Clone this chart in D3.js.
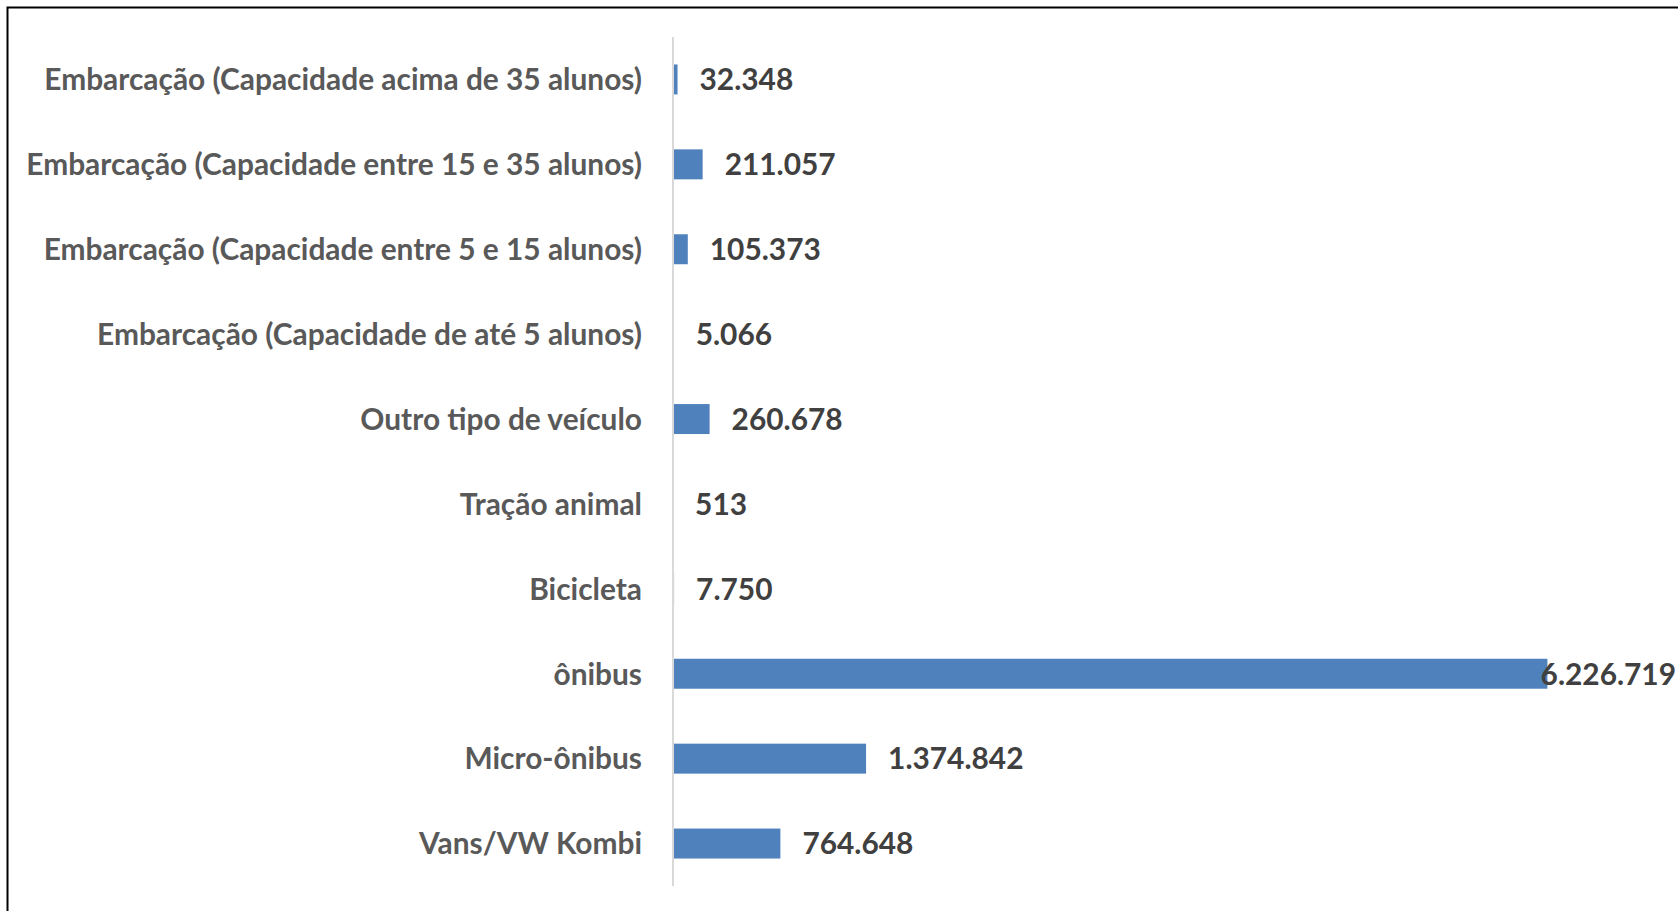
<!DOCTYPE html>
<html>
<head>
<meta charset="utf-8">
<script src="https://cdn.jsdelivr.net/npm/d3@7"></script>
<style>
  html, body { margin: 0; padding: 0; background: #fff; }
  svg { display: block; }
  .cat-label { font-family: Lato, "Open Sans", sans-serif; font-weight: 700; fill: #595959; }
  .val-label { font-family: Lato, "Open Sans", sans-serif; font-weight: 700; fill: #404040; }
</style>
</head>
<body>
<svg id="chart" width="1678" height="911"></svg>
<script>
// ----------

// top to bottom, as in the picture
const CATEGORIES = [
  "Embarcação (Capacidade acima de 35 alunos)",
  "Embarcação (Capacidade entre 15 e 35 alunos)",
  "Embarcação (Capacidade entre 5 e 15 alunos)",
  "Embarcação (Capacidade de até 5 alunos)",
  "Outro tipo de veículo",
  "Tração animal",
  "Bicicleta",
  "ônibus",
  "Micro-ônibus",
  "Vans/VW Kombi"
];
const VALUES = [32348, 211057, 105373, 5066, 260678, 513, 7750, 6226719, 1374842, 764648];

const BAR_COLOR = "#4F81BD";
const AXIS_COLOR = "#D9D9D9";
const FONT_SIZE = 28;
const LONGEST_LABEL_WIDTH = 616;

// ----------

const width = 1678;
const height = 911;
const axisX = 673;
const plotTop = 37;
const plotBottom = 886;

const svg = d3.select("#chart");

// outer frame (right and bottom edges run off the picture)
svg.append("rect")
  .attr("x", 7.5)
  .attr("y", 7.5)
  .attr("width", width + 20)
  .attr("height", height + 20)
  .attr("fill", "none")
  .attr("stroke", "#000")
  .attr("stroke-width", 2);

const data = CATEGORIES.map((c, i) => ({ name: c, value: VALUES[i] }));

const y = d3.scaleBand()
  .domain(CATEGORIES)
  .range([plotTop, plotBottom])
  .paddingInner(0.647)
  .paddingOuter(0.3235);

const x = d3.scaleLinear()
  .domain([0, 7000000])
  .range([axisX, axisX + 983]);

// bars
svg.append("g")
  .selectAll("rect")
  .data(data)
  .enter()
  .append("rect")
  .attr("x", x(0))
  .attr("y", d => y(d.name))
  .attr("width", d => Math.max(0, x(d.value) - x(0)))
  .attr("height", y.bandwidth())
  .attr("fill", BAR_COLOR);

// category axis line, drawn over the bars' base
svg.append("line")
  .attr("x1", axisX)
  .attr("x2", axisX)
  .attr("y1", plotTop)
  .attr("y2", plotBottom)
  .attr("stroke", AXIS_COLOR)
  .attr("stroke-width", 2);

// category labels
const catLabels = svg.append("g")
  .selectAll("text")
  .data(data)
  .enter()
  .append("text")
  .attr("class", "cat-label")
  .attr("x", axisX - 31)
  .attr("y", d => y(d.name) + y.bandwidth() / 2)
  .attr("dy", "0.36em")
  .attr("text-anchor", "end")
  .style("font-size", FONT_SIZE + "px")
  .text(d => d.name);

// fit the font so the longest label takes the same room as in the original
let maxW = d3.max(catLabels.nodes(), n => n.getComputedTextLength());
let fitSize = FONT_SIZE * LONGEST_LABEL_WIDTH / maxW;
catLabels.style("font-size", fitSize + "px");

// value labels
const fmt = d3.formatLocale({ decimal: ",", thousands: ".", grouping: [3], currency: ["", ""] }).format(",d");

svg.append("g")
  .selectAll("text")
  .data(data)
  .enter()
  .append("text")
  .attr("class", "val-label")
  .attr("y", d => y(d.name) + y.bandwidth() / 2)
  .attr("dy", "0.36em")
  .style("font-size", fitSize + "px")
  .text(d => fmt(d.value))
  .attr("x", function (d) {
    let w = this.getComputedTextLength();
    return Math.min(x(d.value) + 22, width - w - 2);
  });
</script>
</body>
</html>
